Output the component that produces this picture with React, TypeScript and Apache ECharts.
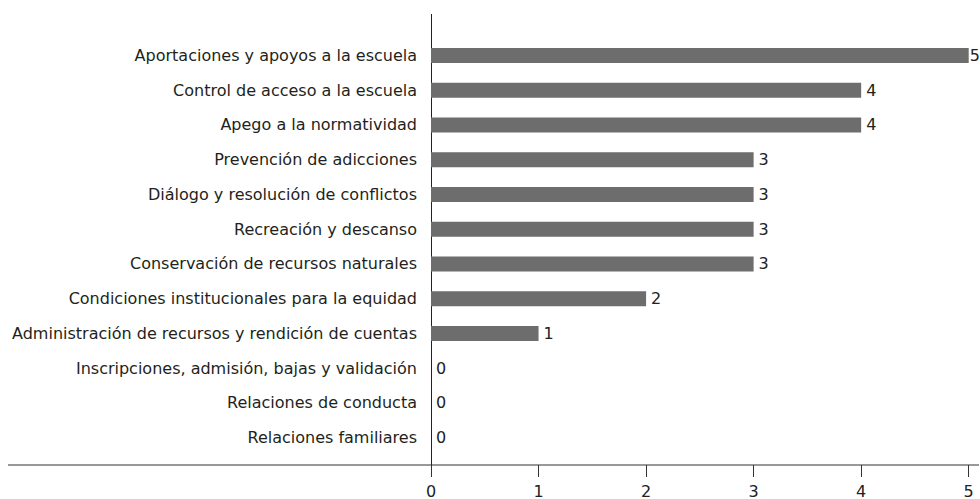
import React, { useEffect, useRef } from "react";
import * as echarts from "echarts";

const categories = [
  "Aportaciones y apoyos a la escuela",
  "Control de acceso a la escuela",
  "Apego a la normatividad",
  "Prevención de adicciones",
  "Diálogo y resolución de conflictos",
  "Recreación y descanso",
  "Conservación de recursos naturales",
  "Condiciones institucionales para la equidad",
  "Administración de recursos y rendición de cuentas",
  "Inscripciones, admisión, bajas y validación",
  "Relaciones de conducta",
  "Relaciones familiares",
];
const values = [5, 4, 4, 3, 3, 3, 3, 2, 1, 0, 0, 0];
const xTicks = [0, 1, 2, 3, 4, 5];

const FONT = "DejaVu Sans";
const FS = 16;

export default function App() {
  const ref = useRef<HTMLDivElement>(null);
  useEffect(() => {
    if (!ref.current) return;
    const chart = echarts.init(ref.current, undefined, { renderer: "svg" });
    chart.setOption({
      animation: false,
      grid: { left: 431, right: 11.3, top: 38, bottom: 44, containLabel: false },
      xAxis: {
        type: "value",
        min: xTicks[0],
        max: xTicks[xTicks.length - 1],
        interval: 1,
        offset: 10,
        axisLine: { show: false },
        axisTick: { show: true, length: 12, lineStyle: { color: "#333", width: 1 } },
        splitLine: { show: false },
        axisLabel: { color: "#222", fontSize: FS, fontFamily: FONT, margin: 18 },
      },
      yAxis: {
        type: "category",
        data: categories,
        inverse: true,
        axisLine: { show: false },
        axisTick: { show: false },
        axisLabel: { color: "#231f20", fontSize: FS, fontFamily: FONT, margin: 14 },
      },
      series: [
        {
          type: "bar",
          data: values.map((v, i) =>
            i === 0 ? { value: v, label: { distance: 1 } } : v
          ),
          barWidth: 15,
          itemStyle: { color: "#6d6d6d" },
          label: {
            show: true,
            position: "right",
            distance: 5,
            color: "#222",
            fontSize: FS,
            fontFamily: FONT,
          },
        },
      ],
      graphic: [
        {
          type: "line",
          shape: { x1: 8, y1: 465, x2: 979, y2: 465 },
          style: { stroke: "#333", lineWidth: 1 },
        },
        {
          type: "line",
          shape: { x1: 431.5, y1: 14, x2: 431.5, y2: 477 },
          style: { stroke: "#222", lineWidth: 1 },
        },
      ],
    });
    return () => chart.dispose();
  }, []);
  return (
    <div
      ref={ref}
      style={{ width: 980, height: 499, position: "absolute", left: 0, top: 0 }}
    />
  );
}
